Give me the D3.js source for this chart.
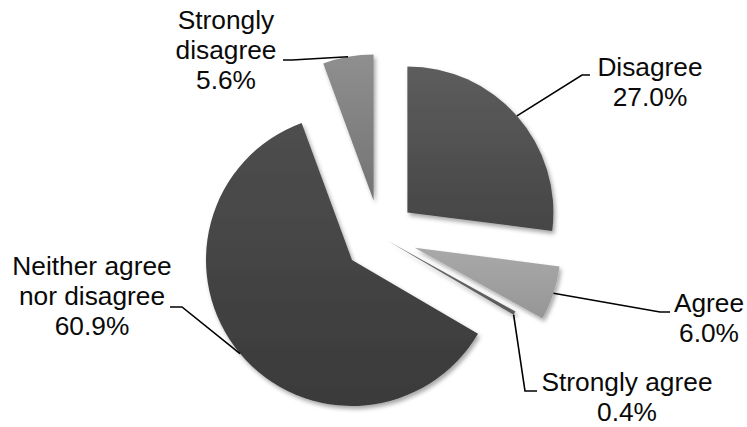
<!DOCTYPE html>
<html>
<head>
<meta charset="utf-8">
<script src="https://cdn.jsdelivr.net/npm/d3@7"></script>
<style>
  html, body { margin: 0; padding: 0; background: #ffffff; }
  svg { display: block; }
  text { font-family: "Liberation Sans", Arial, sans-serif; fill: #0a0a0a; }
</style>
</head>
<body>
<div id="chart"></div>
<script>
// ---- data ----
const categories = ["Disagree", "Agree", "Strongly agree", "Neither agree nor disagree", "Strongly disagree"];
const values = [27.0, 6.0, 0.4, 60.9, 5.6];
const valueLabels = ["27.0%", "6.0%", "0.4%", "60.9%", "5.6%"];
const labelLines = [["Disagree"], ["Agree"], ["Strongly agree"], ["Neither agree", "nor disagree"], ["Strongly", "disagree"]];

// ---- styling / layout ----
const W = 747, H = 427;
const cx = 380, cy = 236.5, R = 146;
const explode = [0.25, 0.25, 0.06, 0.25, 0.25];
const topColors = ["#5d5d5d", "#a9a9a9", "#6c6c6c", "#4e4e4e", "#8f8f8f"];
const botColors = ["#454545", "#969696", "#5a5a5a", "#3a3a3a", "#737373"];
// label layout: text center x, first baseline y, leader elbow and end
const labelX = [650, 709, 627, 92, 226];
const labelY = [76, 312, 391, 275, 29];
const elbow = [[582, 75], [660, 312], [525, 391], [182, 307], [292, 60]];
const lineEnd = [[590, 75], [670, 312], [537, 391], [170, 307], [283, 60]];
const fontSize = 26.3, lineH = 30;

const svg = d3.select("#chart").append("svg").attr("width", W).attr("height", H);
const defs = svg.append("defs");

const f = defs.append("filter").attr("id", "shadow").attr("x", "-20%").attr("y", "-20%").attr("width", "140%").attr("height", "140%");
f.append("feDropShadow").attr("dx", 2).attr("dy", 3).attr("stdDeviation", 2.2).attr("flood-color", "#000").attr("flood-opacity", 0.35);

values.forEach((v, i) => {
  const g = defs.append("linearGradient").attr("id", "grad" + i).attr("x1", 0).attr("y1", 0).attr("x2", 0).attr("y2", 1);
  g.append("stop").attr("offset", "0%").attr("stop-color", topColors[i]);
  g.append("stop").attr("offset", "100%").attr("stop-color", botColors[i]);
});

const pie = d3.pie().sort(null).value(d => d);
const arcs = pie(values);
const arc = d3.arc().innerRadius(0).outerRadius(R);

const gPie = svg.append("g").attr("transform", `translate(${cx},${cy})`);

function offset(d, i) {
  const mid = (d.startAngle + d.endAngle) / 2;
  const e = explode[i] * R;
  return [Math.sin(mid) * e, -Math.cos(mid) * e];
}

gPie.selectAll("path.slice").data(arcs).join("path")
  .attr("class", "slice")
  .attr("d", arc)
  .attr("transform", (d, i) => { const o = offset(d, i); return `translate(${o[0]},${o[1]})`; })
  .attr("fill", (d, i) => `url(#grad${i})`)
  .attr("filter", "url(#shadow)");

// leader lines
const lines = svg.append("g");
arcs.forEach((d, i) => {
  const o = offset(d, i);
  const mid = i === 2 ? d.endAngle : (d.startAngle + d.endAngle) / 2;
  const sx = cx + o[0] + Math.sin(mid) * R;
  const sy = cy + o[1] - Math.cos(mid) * R;
  lines.append("polyline")
    .attr("points", [[sx, sy], elbow[i], lineEnd[i]].map(p => p.join(",")).join(" "))
    .attr("fill", "none").attr("stroke", "#000").attr("stroke-width", 1.6);
});

// labels
const gl = svg.append("g");
arcs.forEach((d, i) => {
  const t = gl.append("text").attr("text-anchor", "middle").attr("font-size", fontSize);
  const rows = labelLines[i].concat([valueLabels[i]]);
  rows.forEach((r, k) => {
    t.append("tspan").attr("x", labelX[i]).attr("y", labelY[i] + k * lineH).text(r);
  });
});
</script>
</body>
</html>
